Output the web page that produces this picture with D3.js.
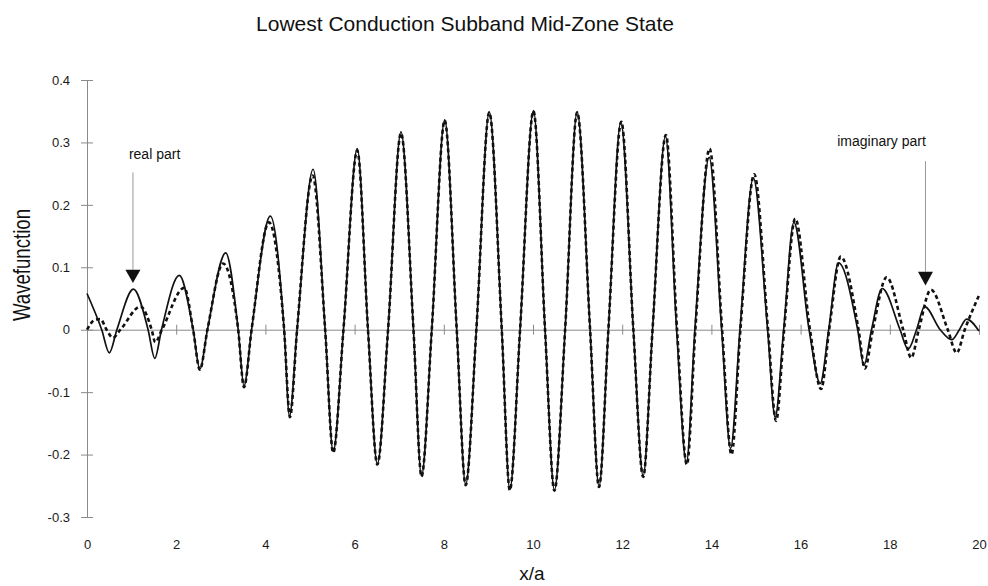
<!DOCTYPE html>
<html>
<head>
<meta charset="utf-8">
<script src="https://cdn.jsdelivr.net/npm/d3@7/dist/d3.min.js"></script>
<style>
  body { margin: 0; background: #fff; }
  svg { font-family: "Liberation Sans", Arial, sans-serif; }
  .axis path, .axis line { stroke: #8a8a8a; stroke-width: 1; }
  .axis text { fill: #1a1a1a; font-size: 13px; }
</style>
</head>
<body>
<div id="chart"></div>
<script>
var width = 988,
    height = 586;

// tick values
var xTicks = [0, 2, 4, 6, 8, 10, 12, 14, 16, 18, 20];
var yTicks = [-0.3, -0.2, -0.1, 0, 0.1, 0.2, 0.3, 0.4];

// real part (solid) - extremes and zero crossings
var realX = [0, 0.33, 0.50, 0.67, 1.04, 1.37, 1.52, 1.67, 2.07, 2.38, 2.53, 2.70,
  3.11, 3.39, 3.52, 3.69, 4.11, 4.42, 4.54, 4.71, 5.07, 5.34, 5.52, 5.75,
  6.06, 6.30, 6.51, 6.75, 7.04, 7.32, 7.50, 7.73, 8.02, 8.29, 8.49, 8.73,
  9.02, 9.30, 9.48, 9.71, 10.01, 10.27, 10.48, 10.72, 10.99, 11.28, 11.48, 11.69,
  11.97, 12.25, 12.47, 12.68, 12.97, 13.22, 13.44, 13.63, 13.95, 14.23, 14.43, 14.64,
  14.94, 15.26, 15.43, 15.62, 15.85, 16.19, 16.44, 16.63, 16.85, 17.28, 17.42, 17.59,
  17.83, 18.23, 18.41, 18.60, 18.78, 19.13, 19.39, 19.56, 19.72, 20];
var realY = [0.058, 0, -0.037, 0, 0.065, 0, -0.046, 0, 0.087, 0, -0.063, 0,
  0.123, 0, -0.09, 0, 0.182, 0, -0.138, 0, 0.257, 0, -0.195, 0,
  0.29, 0, -0.215, 0, 0.317, 0, -0.234, 0, 0.336, 0, -0.248, 0,
  0.349, 0, -0.256, 0, 0.351, 0, -0.257, 0, 0.349, 0, -0.251, 0,
  0.333, 0, -0.234, 0, 0.31, 0, -0.213, 0, 0.276, 0, -0.19, 0,
  0.243, 0, -0.14, 0, 0.172, 0, -0.086, 0, 0.107, 0, -0.057, 0,
  0.066, 0, -0.031, 0, 0.037, 0, -0.016, 0, 0.017, -0.002];

// imaginary part (dotted)
var imagX = [0, 0.18, 0.30, 0.44, 0.58, 0.75,
  1.20, 1.45, 1.53, 1.68, 2.18, 2.38, 2.53, 2.70, 3.05, 3.39, 3.52, 3.69,
  4.08, 4.42, 4.55, 4.71, 5.06, 5.34, 5.52, 5.75, 6.06, 6.30, 6.51, 6.75,
  7.04, 7.32, 7.50, 7.73, 8.02, 8.29, 8.49, 8.73, 9.02, 9.30, 9.48, 9.71,
  10.01, 10.27, 10.48, 10.72, 10.99, 11.28, 11.48, 11.69, 11.98, 12.25, 12.47, 12.68,
  12.98, 13.23, 13.45, 13.64, 13.96, 14.24, 14.45, 14.65, 14.96, 15.27, 15.45, 15.63,
  15.88, 16.21, 16.46, 16.64, 16.9, 17.3, 17.44, 17.62, 17.93, 18.3, 18.48, 18.65,
  18.92, 19.3, 19.5, 19.68, 20];
var imagY = [0, 0.016, 0.017, 0, -0.013, 0,
  0.037, 0, -0.02, 0, 0.067, 0, -0.064, 0, 0.106, 0, -0.092, 0,
  0.172, 0, -0.14, 0, 0.247, 0, -0.197, 0, 0.287, 0, -0.216, 0,
  0.315, 0, -0.235, 0, 0.335, 0, -0.249, 0, 0.348, 0, -0.257, 0,
  0.350, 0, -0.258, 0, 0.348, 0, -0.252, 0, 0.333, 0, -0.236, 0,
  0.312, 0, -0.216, 0, 0.29, 0, -0.2, 0, 0.249, 0, -0.146, 0,
  0.178, 0, -0.095, 0, 0.117, 0, -0.062, 0, 0.084, 0, -0.045, 0,
  0.064, 0, -0.037, 0, 0.055];

// arrow annotations: [label, arrow x, label x, label y, line top, head top, tip]
var notes = [
  ["real part", 1.03, 0.94, 0.273, 0.252, 0.096, 0.075],
  ["imaginary part", 18.8, 16.82, 0.294, 0.27, 0.093, 0.071]
];

var svg = d3.select("#chart").append("svg")
  .attr("width", width)
  .attr("height", height);

var x = d3.scaleLinear().domain([0, 20]).range([87, 979]);
var y = d3.scaleLinear().domain([-0.3, 0.4]).range([517, 80]);

// title
svg.append("text")
  .attr("x", 465)
  .attr("y", 31)
  .attr("text-anchor", "middle")
  .style("font-size", "21px")
  .style("fill", "#111")
  .text("Lowest Conduction Subband Mid-Zone State");

// y axis
var yAxis = svg.append("g")
  .attr("class", "axis")
  .attr("transform", "translate(" + x(0) + ",0)")
  .call(d3.axisLeft(y).tickValues(yTicks).tickSizeOuter(0).tickSize(6).tickPadding(11)
    .tickFormat(function(d) { return String(d); }));
yAxis.selectAll(".tick line").attr("x1", -6).attr("x2", 6);

// x axis sits on the zero line, labels at the bottom
var xAxis = svg.append("g")
  .attr("class", "axis")
  .attr("transform", "translate(0," + y(0) + ")")
  .call(d3.axisBottom(x).tickValues(xTicks).tickSizeOuter(0).tickSize(5)
    .tickFormat(function(d) { return String(d); }));
xAxis.selectAll(".tick line").attr("y1", -5).attr("y2", 5);
xAxis.selectAll(".tick text").attr("y", y(-0.3) + 23 - y(0));

// axis titles
svg.append("text")
  .attr("x", 532)
  .attr("y", 580)
  .attr("text-anchor", "middle")
  .style("font-size", "19px")
  .style("fill", "#111")
  .text("x/a");

svg.append("text")
  .attr("transform", "translate(30,265) rotate(-90)")
  .attr("text-anchor", "middle")
  .attr("textLength", 112)
  .attr("lengthAdjust", "spacingAndGlyphs")
  .style("font-size", "24px")
  .style("fill", "#111")
  .text("Wavefunction");

// curves
var line = d3.line()
  .x(function(d) { return x(d[0]); })
  .y(function(d) { return y(d[1]); })
  .curve(d3.curveMonotoneX);

svg.append("path")
  .datum(d3.zip(imagX, imagY))
  .attr("fill", "none")
  .attr("stroke", "#111")
  .attr("stroke-width", 2.6)
  .attr("stroke-dasharray", "4,3")
  .attr("d", line);

svg.append("path")
  .datum(d3.zip(realX, realY))
  .attr("fill", "none")
  .attr("stroke", "#111")
  .attr("stroke-width", 1.7)
  .attr("d", line);

// annotations
notes.forEach(function(n) {
  var ax = x(n[1]);
  svg.append("text")
    .attr("x", x(n[2]))
    .attr("y", y(n[3]))
    .style("font-size", "14px")
    .style("fill", "#111")
    .text(n[0]);
  svg.append("line")
    .attr("x1", ax).attr("x2", ax)
    .attr("y1", y(n[4])).attr("y2", y(n[5]))
    .attr("stroke", "#999")
    .attr("stroke-width", 1);
  svg.append("path")
    .attr("d", "M" + (ax - 7.5) + "," + y(n[5]) + "L" + (ax + 7.5) + "," + y(n[5]) + "L" + ax + "," + y(n[6]) + "Z")
    .attr("fill", "#111");
});
</script>
</body>
</html>
